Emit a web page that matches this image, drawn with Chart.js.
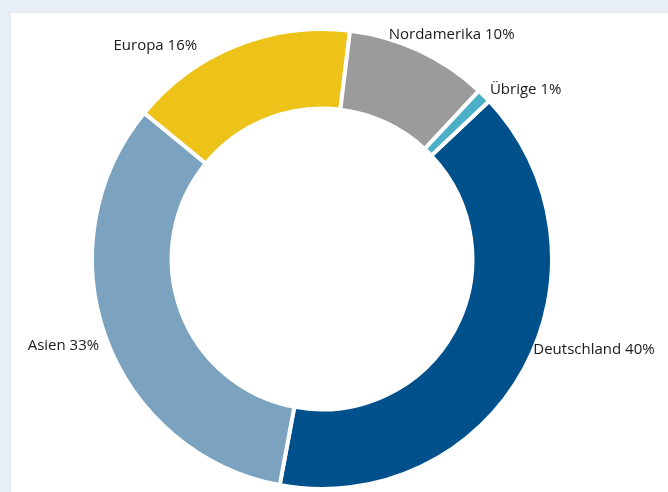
<!DOCTYPE html>
<html lang="de">
<head>
<meta charset="utf-8">
<title>Umsatz nach Regionen</title>
<script src="https://cdn.jsdelivr.net/npm/chart.js@4.4.1/dist/chart.umd.min.js"></script>
<style>
    html, body {
        margin: 0;
        padding: 0;
        background: #e8eef5;
        width: 668px;
        height: 492px;
        overflow: hidden;
    }
    #panel {
        position: absolute;
        left: 11px;
        top: 13px;
        right: 0;
        bottom: 0;
        background: #ffffff;
    }
    #region-chart {
        position: absolute;
        left: 0;
        top: 0;
    }
</style>
</head>
<body>
<div id="panel"></div>
<canvas id="region-chart" width="668" height="492"></canvas>
<script>
const categories = ['Deutschland', 'Asien', 'Europa', 'Nordamerika', 'Übrige'];
const shares = [40, 33, 16, 10, 1];
const sliceColors = ['#00508c', '#7ba3c0', '#edc31a', '#9b9b9b', '#4bafc8'];

// hand placement of the labels, in px, on top of the automatic spot outside each slice
const labelNudge = [[15, -24], [-7, 4], [-65, 6], [5, -10], [15, -2]];

const LABEL_FONT_SIZE = 15;
const LABEL_FONT = `${LABEL_FONT_SIZE}px "Open Sans", sans-serif`;

/**
 * Draws "Name xx%" outside of every slice.
 */
const outsideLabels = {
    id: 'outsideLabels',
    afterDatasetsDraw(chart) {
        const ctx = chart.ctx;
        const meta = chart.getDatasetMeta(0);
        const capHalf = LABEL_FONT_SIZE * 0.714 / 2;

        ctx.save();
        ctx.font = LABEL_FONT;
        ctx.fillStyle = '#1a1a1a';
        ctx.textAlign = 'center';
        ctx.textBaseline = 'alphabetic';

        meta.data.forEach((arc, i) => {
            const { x, y, startAngle, endAngle, outerRadius } =
                arc.getProps(['x', 'y', 'startAngle', 'endAngle', 'outerRadius'], true);
            const mid = (startAngle + endAngle) / 2;
            const ux = Math.cos(mid);
            const uy = Math.sin(mid);
            const text = `${categories[i]} ${shares[i]}%`;
            const halfW = ctx.measureText(text).width / 2;

            const px = x + ux * (outerRadius + 2);
            const py = y + uy * (outerRadius + 2);
            const cx = px + ux * halfW + labelNudge[i][0];
            const cy = py + uy * capHalf + labelNudge[i][1];
            ctx.fillText(text, cx, cy + capHalf);
        });
        ctx.restore();
    }
};

new Chart(document.getElementById('region-chart'), {
    type: 'doughnut',
    data: {
        labels: categories,
        datasets: [{
            data: shares,
            backgroundColor: sliceColors,
            borderColor: '#ffffff',
            borderWidth: 4
        }]
    },
    options: {
        responsive: false,
        animation: false,
        rotation: 46.6,
        cutout: '65.4%',
        layout: {
            padding: { left: 90, top: 27, right: 114, bottom: 1 }
        },
        plugins: {
            legend: { display: false },
            tooltip: { enabled: false }
        }
    },
    plugins: [outsideLabels]
});
</script>
</body>
</html>
